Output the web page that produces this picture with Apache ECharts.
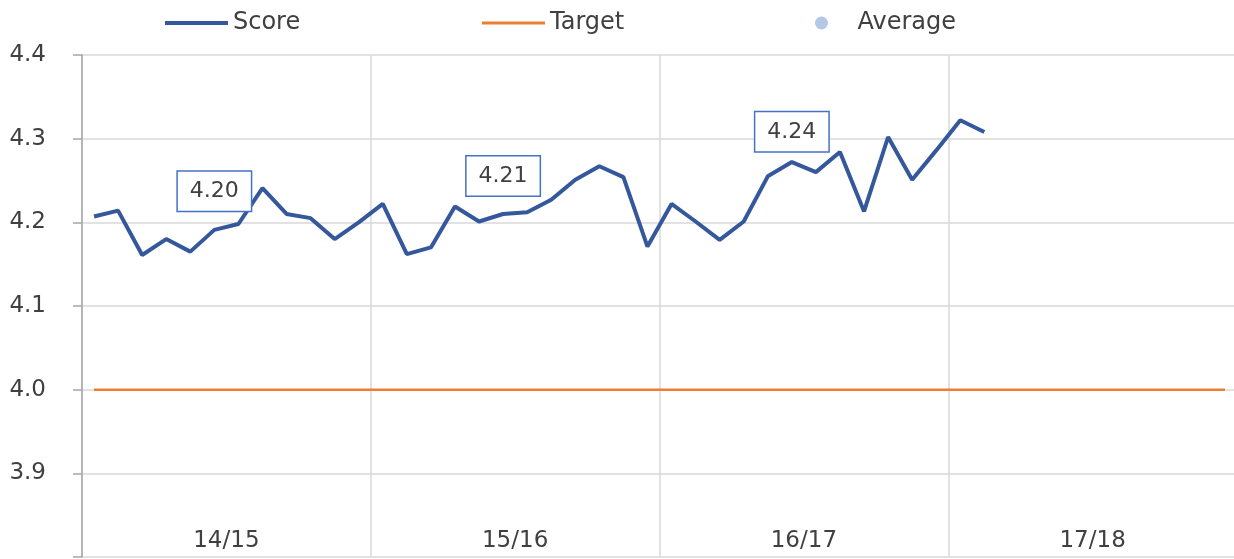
<!DOCTYPE html>
<html>
<head>
<meta charset="utf-8">
<script src="https://cdn.jsdelivr.net/npm/echarts@6/dist/echarts.min.js"></script>
<style>
  html, body { margin: 0; padding: 0; background: #fff; }
  #chart { width: 1234px; height: 559px; }
</style>
</head>
<body>
<div id="chart"></div>
<script>
// seasons and months on the x axis
const seasons = ['14/15', '15/16', '16/17', '17/18'];
const months = ['Apr', 'May', 'Jun', 'Jul', 'Aug', 'Sep', 'Oct', 'Nov', 'Dec', 'Jan', 'Feb', 'Mar'];

// monthly score (17/18 not yet reported)
const score = [
  4.207, 4.214, 4.161, 4.180, 4.165, 4.191, 4.198, 4.241, 4.210, 4.205, 4.180, 4.200,
  4.222, 4.162, 4.170, 4.219, 4.201, 4.210, 4.212, 4.227, 4.251, 4.267, 4.254, 4.171,
  4.222, 4.201, 4.179, 4.201, 4.255, 4.272, 4.260, 4.284, 4.213, 4.302, 4.251, 4.286,
  4.322, 4.308, null, null, null, null, null, null, null, null, null, null
];
const target = 4.0;

// season averages, shown as boxed labels
const avgMonthIndex = [5, 17, 29];
const avgValues = [4.20, 4.21, 4.24];

const yTicks = { min: 3.8, max: 4.4, step: 0.1 };

// category list: one per month across all seasons
const monthCats = [];
seasons.forEach(s => months.forEach(m => monthCats.push(m + ' ' + s)));

const textColor = '#404040';
const gridColor = '#d9d9d9';
const font = 'DejaVu Sans';

const chart = echarts.init(document.getElementById('chart'), null, { renderer: 'canvas' });

const legendBase = {
  top: 6,
  textStyle: { fontFamily: font, fontSize: 24, color: textColor },
  selectedMode: false
};

// label boxes sit above the average point by different amounts
const boxLift = [-31, -38, -57];

chart.setOption({
  backgroundColor: '#fff',
  animation: false,
  legend: [
    Object.assign({}, legendBase, {
      data: [{ name: 'Score', icon: 'rect' }], left: 160, itemWidth: 63, itemHeight: 4
    }),
    Object.assign({}, legendBase, {
      data: [{ name: 'Target', icon: 'rect' }], left: 477, itemWidth: 63, itemHeight: 3
    }),
    Object.assign({}, legendBase, {
      data: [{ name: 'Average', icon: 'circle' }], left: 810, itemWidth: 62, itemHeight: 13
    })
  ],
  grid: {
    left: 82, right: -3, top: 55, bottom: 2,
    containLabel: false,
    outerBoundsMode: 'none'
  },
  xAxis: [
    {
      type: 'category',
      data: monthCats,
      boundaryGap: true,
      show: false
    },
    {
      type: 'category',
      data: seasons,
      boundaryGap: true,
      position: 'bottom',
      axisLine: { show: false },
      axisTick: { show: false },
      axisLabel: {
        inside: true,
        margin: 4,
        fontFamily: font, fontSize: 23, color: textColor
      },
      splitLine: { show: true, lineStyle: { color: gridColor, width: 1.5 } }
    }
  ],
  yAxis: {
    type: 'value',
    min: yTicks.min,
    max: yTicks.max,
    interval: yTicks.step,
    axisLine: { show: true, lineStyle: { color: '#a6a6a6', width: 1.5 } },
    axisTick: { show: true, length: 9, lineStyle: { color: '#a6a6a6', width: 1.5 } },
    axisLabel: {
      margin: 36,
      fontFamily: font, fontSize: 23, color: textColor,
      formatter: v => (v < yTicks.min + yTicks.step / 2 ? '' : v.toFixed(1))
    },
    splitLine: { show: true, lineStyle: { color: gridColor, width: 1.5 } }
  },
  series: [
    {
      name: 'Score',
      type: 'line',
      xAxisIndex: 0,
      data: score,
      symbol: 'none',
      color: '#34589b',
      lineStyle: { color: '#34589b', width: 4 },
      z: 4
    },
    {
      name: 'Target',
      type: 'line',
      xAxisIndex: 0,
      data: [[monthCats[0], target], [monthCats[monthCats.length - 1], target]],
      symbol: 'none',
      color: '#ed7d31',
      lineStyle: { color: '#ed7d31', width: 2.5 },
      z: 3
    },
    {
      name: 'Average',
      type: 'scatter',
      xAxisIndex: 0,
      color: '#b4c7e7',
      itemStyle: { opacity: 1 },
      symbolSize: 0,
      data: avgMonthIndex.map((idx, i) => ({
        value: [monthCats[idx], avgValues[i]],
        label: { offset: [0, boxLift[i]] }
      })),
      label: {
        show: true,
        position: 'inside',
        formatter: p => p.value[1].toFixed(2),
        fontFamily: font,
        fontSize: 22,
        color: textColor,
        backgroundColor: '#fff',
        borderColor: '#4472c4',
        borderWidth: 1.5,
        padding: [9, 12, 8, 12]
      },
      z: 5
    }
  ]
});
</script>
</body>
</html>
